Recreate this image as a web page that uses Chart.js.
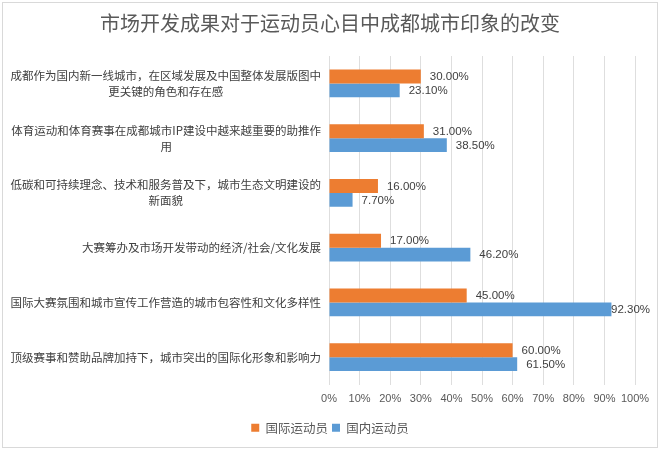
<!DOCTYPE html>
<html>
<head>
<meta charset="utf-8">
<script src="https://cdn.jsdelivr.net/npm/chart.js@4"></script>
<style>
  html, body { margin: 0; padding: 0; background: #fff; }
  #wrap { position: relative; width: 660px; height: 450px; }
  #frame { position: absolute; left: 2px; top: 2px; width: 654px; height: 444px; border: 1px solid #d9d9d9; pointer-events: none; }
</style>
</head>
<body>
<div id="wrap">
  <canvas id="chart" width="660" height="450"></canvas>
  <div id="frame"></div>
</div>
<script>
  // categories (top to bottom), each entry is the list of wrapped lines
  const categories = [
    ['成都作为国内新一线城市，在区域发展及中国整体发展版图中', '更关键的角色和存在感'],
    ['体育运动和体育赛事在成都城市IP建设中越来越重要的助推作', '用'],
    ['低碳和可持续理念、技术和服务普及下，城市生态文明建设的', '新面貌'],
    ['大赛筹办及市场开发带动的经济/社会/文化发展'],
    ['国际大赛氛围和城市宣传工作营造的城市包容性和文化多样性'],
    ['顶级赛事和赞助品牌加持下，城市突出的国际化形象和影响力'],
  ];
  const seriesNames = ['国际运动员', '国内运动员'];
  const intlValues = [30.0, 31.0, 16.0, 17.0, 45.0, 60.0];
  const domesticValues = [23.1, 38.5, 7.7, 46.2, 92.3, 61.5];
  const xTicks = [0, 10, 20, 30, 40, 50, 60, 70, 80, 90, 100];

  const ORANGE = '#ED7D31';
  const BLUE = '#5B9BD5';
  const CJK = '"Noto Sans CJK SC", "Noto Sans", sans-serif';
  const LATIN = '"Liberation Sans", Arial, sans-serif';

  // category labels: block right-aligned to the axis, lines centered inside the block
  const categoryLabels = {
    id: 'categoryLabels',
    afterDraw(chart) {
      const { ctx, chartArea } = chart;
      const yScale = chart.scales.y;
      const right = chartArea.left - 8;
      const lineH = 16;
      ctx.save();
      ctx.font = '11.5px ' + CJK;
      ctx.fillStyle = '#404040';
      ctx.textBaseline = 'middle';
      ctx.textAlign = 'center';
      categories.forEach((lines, i) => {
        const widest = Math.max(...lines.map((l) => ctx.measureText(l).width));
        const cx = right - widest / 2;
        const yc = yScale.getPixelForTick(i);
        const y0 = yc - ((lines.length - 1) * lineH) / 2;
        lines.forEach((l, j) => ctx.fillText(l, cx, y0 + j * lineH));
      });
      ctx.restore();
    },
  };

  // value labels at the end of every bar
  const valueLabels = {
    id: 'valueLabels',
    afterDatasetsDraw(chart) {
      const { ctx } = chart;
      ctx.save();
      ctx.font = '11.5px ' + LATIN;
      ctx.fillStyle = '#404040';
      ctx.textBaseline = 'middle';
      ctx.textAlign = 'left';
      chart.data.datasets.forEach((ds, di) => {
        chart.getDatasetMeta(di).data.forEach((bar, i) => {
          const text = ds.data[i].toFixed(2) + '%';
          const w = ctx.measureText(text).width;
          let x = bar.x + 9;
          if (x + w > 650) x = 650 - w;
          ctx.fillText(text, x, bar.y + 0.5);
        });
      });
      ctx.restore();
    },
  };

  new Chart(document.getElementById('chart'), {
    type: 'bar',
    data: {
      labels: categories,
      datasets: [
        { label: seriesNames[0], data: intlValues, backgroundColor: ORANGE },
        { label: seriesNames[1], data: domesticValues, backgroundColor: BLUE },
      ],
    },
    options: {
      indexAxis: 'y',
      responsive: false,
      animation: false,
      layout: { padding: { left: 25, right: 25, top: 0, bottom: 6 } },
      datasets: { bar: { categoryPercentage: 0.51, barPercentage: 1.0 } },
      scales: {
        x: {
          min: 0,
          max: 100,
          afterBuildTicks: (scale) => { scale.ticks = xTicks.map((v) => ({ value: v })); },
          afterFit: (scale) => { scale.height = 33; },
          grid: { color: '#dedede', drawTicks: false },
          border: { display: false },
          ticks: {
            padding: 8,
            color: '#595959',
            autoSkip: false,
            maxRotation: 0,
            minRotation: 0,
            font: { family: LATIN, size: 11 },
            callback: (v) => v + '%',
          },
        },
        y: {
          afterFit: (scale) => { scale.width = 304; },
          grid: { display: false },
          border: { display: false },
          ticks: { display: false },
        },
      },
      plugins: {
        title: {
          display: true,
          text: '市场开发成果对于运动员心目中成都城市印象的改变',
          color: '#595959',
          font: { family: CJK, size: 20, weight: 'normal' },
          padding: { top: 11, bottom: 21 },
        },
        legend: {
          position: 'bottom',
          labels: {
            boxWidth: 8,
            boxHeight: 8,
            padding: 4,
            color: '#595959',
            font: { family: CJK, size: 12.5 },
          },
        },
        tooltip: { enabled: false },
      },
    },
    plugins: [categoryLabels, valueLabels],
  });
</script>
</body>
</html>
